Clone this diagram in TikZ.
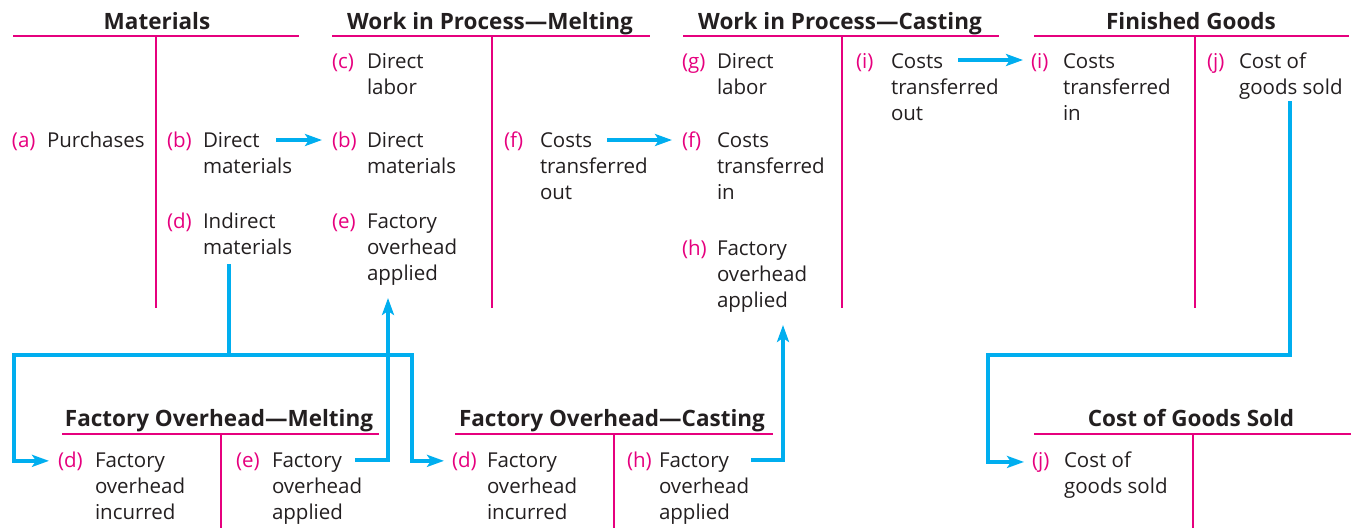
\documentclass[tikz,border=0pt]{standalone}
\usepackage{fontspec}
\setmainfont{Open Sans}
\usetikzlibrary{arrows.meta}
\definecolor{pk}{HTML}{E6007E}
\definecolor{bl}{HTML}{00AEEF}
\definecolor{tx}{HTML}{231F20}
\newcommand\stk[1]{\vtop{\baselineskip=26pt\halign{##\hfil\cr#1\crcr}}}
\begin{document}
\begin{tikzpicture}[x=1pt,y=-1pt,
 every node/.style={inner sep=0pt, outer sep=0pt, font=\fontsize{20.5}{26}\selectfont, text=tx},
 lbl/.style={anchor=base west, text=pk},
 ent/.style={anchor=base west},
 ttl/.style={anchor=base, font=\fontsize{22.5}{26}\selectfont\bfseries},
 rule/.style={draw=pk, line width=1.3pt},
 wire/.style={draw=bl, line width=4pt},
 flow/.style={draw=bl, line width=4pt, -{Stealth[length=17pt,width=12pt,inset=4pt]}}]
\useasboundingbox (0,0) rectangle (1356,528);

% ---- T accounts (top) ----
\draw[rule] (13,36) -- (299,36);  \draw[rule] (156,36) -- (156,308);
\node[ttl] (tMat) at (157,29) {Materials};
\draw[rule] (332,36) -- (650,36); \draw[rule] (492,36) -- (492,308);
\node[ttl] (tWM) at (490,29) {Work in Process—Melting};
\draw[rule] (683,36) -- (999,36); \draw[rule] (842,36) -- (842,308);
\node[ttl] (tWC) at (840,29) {Work in Process—Casting};
\draw[rule] (1034,36) -- (1349,36); \draw[rule] (1195,36) -- (1195,308);
\node[ttl] (tFG) at (1191,29) {Finished Goods};

% ---- T accounts (bottom) ----
\draw[rule] (62,434) -- (379,434); \draw[rule] (221,434) -- (221,528);
\node[ttl] (tFM) at (219,426) {Factory Overhead—Melting};
\draw[rule] (455,434) -- (773,434); \draw[rule] (614,434) -- (614,528);
\node[ttl] (tFC) at (612,426) {Factory Overhead—Casting};
\draw[rule] (1034,434) -- (1351,434); \draw[rule] (1193,434) -- (1193,528);
\node[ttl] (tCG) at (1191,426) {Cost of Goods Sold};

% ---- Materials entries ----
\node[lbl] (ma) at (12,147) {(a)};  \node[ent] (mat) at (47,147) {Purchases};
\node[lbl] (mb) at (167,147) {(b)}; \node[ent] (mbt) at (203,147) {\stk{Direct\cr materials}};
\node[lbl] (md) at (167,228) {(d)}; \node[ent] (mdt) at (203,228) {\stk{Indirect\cr materials}};

% ---- WIP Melting entries ----
\node[lbl] (wc) at (332,68) {(c)};  \node[ent] (wct) at (367,68) {\stk{Direct\cr labor}};
\node[lbl] (wb) at (332,147) {(b)}; \node[ent] (wbt) at (367,147) {\stk{Direct\cr materials}};
\node[lbl] (we) at (332,228) {(e)}; \node[ent] (wet) at (367,228) {\stk{Factory\cr overhead\cr applied}};
\node[lbl] (wf) at (504,147) {(f)}; \node[ent] (wft) at (540,147) {\stk{Costs\cr transferred\cr out}};

% ---- WIP Casting entries ----
\node[lbl] (cg) at (682,68) {(g)};  \node[ent] (cgt) at (717,68) {\stk{Direct\cr labor}};
\node[lbl] (cf) at (682,147) {(f)}; \node[ent] (cft) at (717,147) {\stk{Costs\cr transferred\cr in}};
\node[lbl] (ch) at (682,255) {(h)}; \node[ent] (cht) at (717,255) {\stk{Factory\cr overhead\cr applied}};
\node[lbl] (ci) at (856,68) {(i)};  \node[ent] (cit) at (891,68) {\stk{Costs\cr transferred\cr out}};

% ---- Finished Goods entries ----
\node[lbl] (gi) at (1031,68) {(i)}; \node[ent] (git) at (1063,68) {\stk{Costs\cr transferred\cr in}};
\node[lbl] (gj) at (1207,68) {(j)}; \node[ent] (gjt) at (1239,68) {\stk{Cost of\cr goods sold}};

% ---- Factory Overhead Melting ----
\node[lbl] (fmd) at (58,467) {(d)};  \node[ent] (fmdt) at (95,467) {\stk{Factory\cr overhead\cr incurred}};
\node[lbl] (fme) at (236,467) {(e)}; \node[ent] (fmet) at (272,467) {\stk{Factory\cr overhead\cr applied}};

% ---- Factory Overhead Casting ----
\node[lbl] (fcd) at (452,467) {(d)}; \node[ent] (fcdt) at (487,467) {\stk{Factory\cr overhead\cr incurred}};
\node[lbl] (fch) at (627,467) {(h)}; \node[ent] (fcht) at (659,467) {\stk{Factory\cr overhead\cr applied}};

% ---- Cost of Goods Sold ----
\node[lbl] (sj) at (1032,467) {(j)}; \node[ent] (sjt) at (1064,467) {\stk{Cost of\cr goods sold}};

% ---- connectors ----
\coordinate (s1) at (276,140);
\draw[flow,shorten >=10pt] (s1) -- (s1 -| wb.west);
\coordinate (s2) at (607,140);
\draw[flow,shorten >=10pt] (s2) -- (s2 -| cf.west);
\coordinate (s3) at (958,60);
\draw[flow,shorten >=8pt] (s3) -- (s3 -| gi.west);

\coordinate (s4) at (229,264);
\coordinate (j4) at (229,355);
\coordinate (l4) at (14,355);
\coordinate (k4) at (412,355);
\draw[wire] (s4) -- (j4);
\draw[flow,shorten >=9pt] (j4) -- (l4) |- (fmd.west);
\draw[flow,shorten >=8pt] (j4) -- (k4) |- (fcd.west);

\coordinate (s5) at (355,460);
\coordinate (t5) at (388,298);
\draw[flow] (s5) -| (t5);
\coordinate (s6) at (751,460);
\coordinate (t6) at (783,325);
\draw[flow] (s6) -| (t6);

\coordinate (s7) at (1290,101);
\coordinate (m7) at (988,355);
\draw[flow,shorten >=8pt] (s7) |- (m7) |- (sj.west);
\end{tikzpicture}
\end{document}
